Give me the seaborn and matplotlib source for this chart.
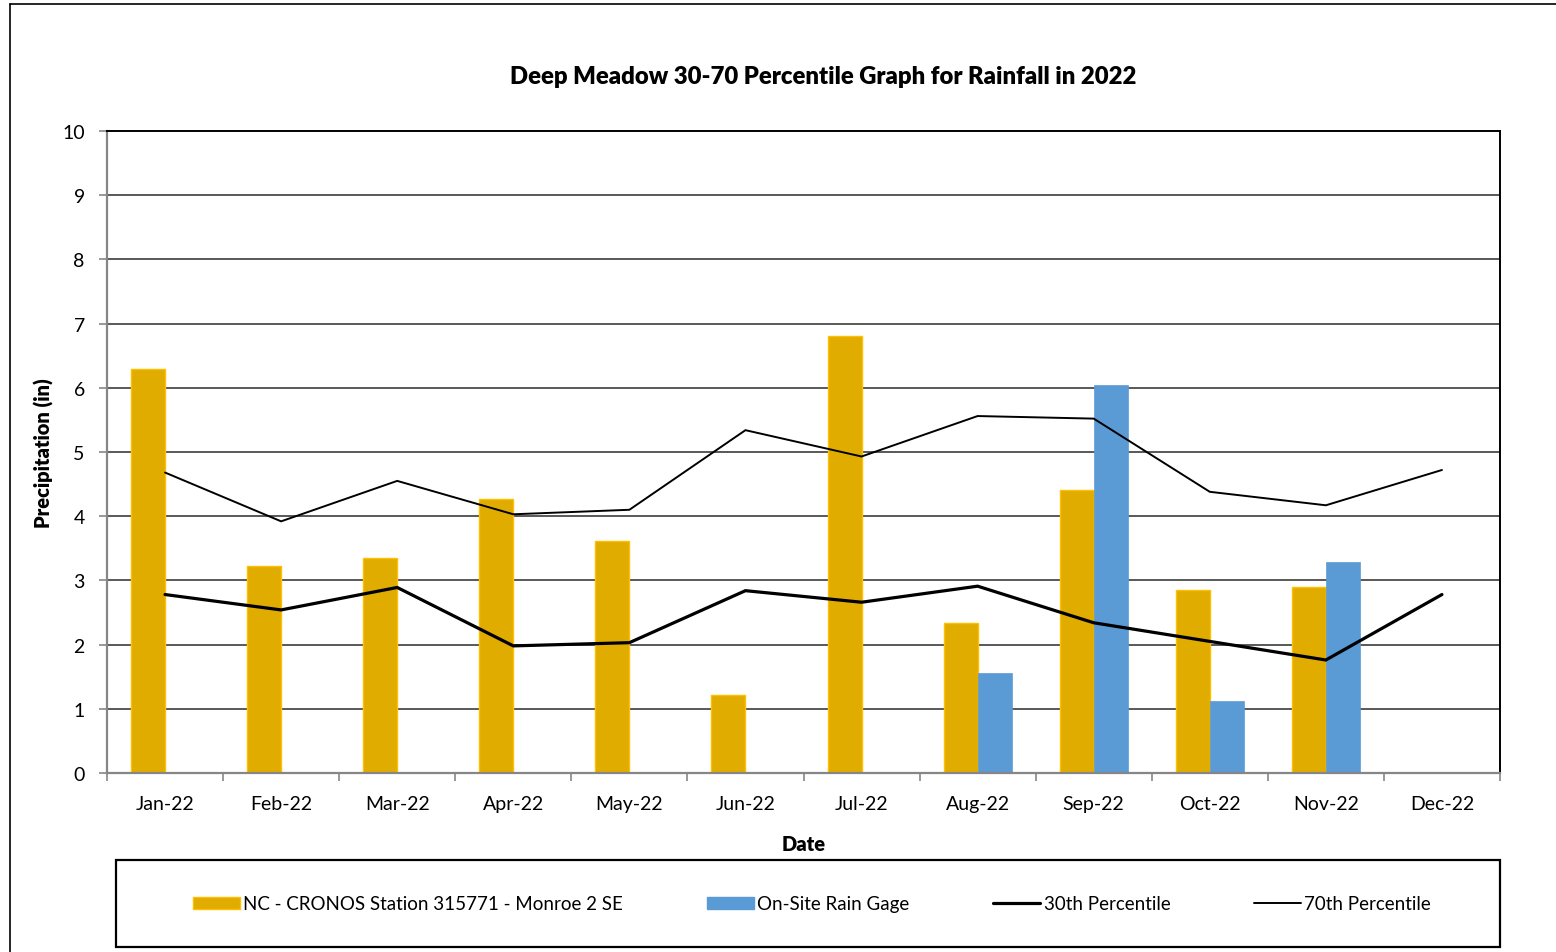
import numpy as np
import pandas as pd
import matplotlib
matplotlib.use("Agg")
import matplotlib.pyplot as plt
from matplotlib.patches import Patch, Rectangle
from matplotlib.lines import Line2D
import seaborn as sns

months = ["Jan-22", "Feb-22", "Mar-22", "Apr-22", "May-22", "Jun-22",
          "Jul-22", "Aug-22", "Sep-22", "Oct-22", "Nov-22", "Dec-22"]
cronos = [6.30, 3.23, 3.35, 4.27, 3.62, 1.22, 6.81, 2.33, 4.41, 2.85, 2.89, np.nan]
onsite = [np.nan, np.nan, np.nan, np.nan, np.nan, np.nan, np.nan, 1.55, 6.05, 1.12, 3.29, np.nan]
p30 = [2.78, 2.54, 2.89, 1.98, 2.03, 2.84, 2.66, 2.91, 2.34, 2.05, 1.76, 2.78]
p70 = [4.68, 3.92, 4.55, 4.03, 4.10, 5.34, 4.93, 5.56, 5.52, 4.38, 4.17, 4.72]

s_cronos = "NC - CRONOS Station 315771 - Monroe 2 SE"
s_onsite = "On-Site Rain Gage"

sns.set_theme(style="white")
plt.rcParams['font.family'] = ['Lato', 'DejaVu Sans']
plt.rcParams['text.color'] = 'black'
plt.rcParams['axes.labelcolor'] = 'black'

df = pd.DataFrame({
    "Date": months * 2,
    "Precip": cronos + onsite,
    "Series": [s_cronos] * 12 + [s_onsite] * 12,
})

gold = "#E0AC00"
gold_edge = "#FFC000"
blue = "#5B9BD5"

fig = plt.figure(figsize=(15.56, 9.53), dpi=100)
ax = fig.add_axes([107/1556, 1-774/953, (1500-107)/1556, (774-132)/953])

sns.barplot(data=df, x="Date", y="Precip", hue="Series", order=months,
            hue_order=[s_cronos, s_onsite], palette=[gold, blue],
            width=0.586, gap=0, ax=ax, legend=False, zorder=2, saturation=1)
gold_rgba = matplotlib.colors.to_rgba(gold)
for bar in ax.patches:
    fc = bar.get_facecolor()
    if abs(fc[0] - gold_rgba[0]) < 0.01:
        bar.set_edgecolor(gold_edge)
        bar.set_linewidth(1.0)
    else:
        bar.set_edgecolor(blue)
        bar.set_linewidth(0.5)

xs = np.arange(len(months))
ax.plot(xs, p30, color="black", lw=2.3, zorder=3, solid_joinstyle="miter")
ax.plot(xs, p70, color="black", lw=1.4, zorder=3, solid_joinstyle="miter")

ax.set_xlim(-0.5, 11.5)
ax.set_ylim(0, 10)
ax.set_yticks(range(0, 11))
ax.set_yticklabels([str(v) for v in range(0, 11)], fontsize=14, color="black")
ax.set_xticks(xs)
ax.set_xticklabels(months, fontsize=14, color="black")
ax.set_xticks(np.arange(-0.5, 12, 1), minor=True)
ax.tick_params(axis="x", which="major", length=0, pad=16)
ax.tick_params(axis="x", which="minor", length=6, color="#868686", width=1.2, direction="out")
ax.tick_params(axis="y", which="major", length=6, color="#868686", width=1.2, direction="out", pad=10)
ax.tick_params(bottom=True, left=True, which="both")

for v in range(1, 10):
    ax.axhline(v, color="#2b2b2b", lw=1.1, zorder=1)

for sp in ["left", "bottom"]:
    ax.spines[sp].set_color("#868686")
    ax.spines[sp].set_linewidth(1.6)
for sp in ["top", "right"]:
    ax.spines[sp].set_color("black")
    ax.spines[sp].set_linewidth(1.4)
ax.spines["bottom"].set_zorder(4)

ax.set_xlabel("Date", fontsize=14.5, fontweight="heavy", labelpad=16)
ax.set_ylabel("Precipitation (in)", fontsize=14.5, fontweight="heavy", labelpad=6)

fig.text(823/1556, 1-77/953, "Deep Meadow 30-70 Percentile Graph for Rainfall in 2022",
         ha="center", va="center", fontsize=17.2, fontweight="heavy", color="black")

# outer chart frame
fig.add_artist(Line2D([10/1556, 10/1556], [0, 1-5/953], color="black", lw=1.2, transform=fig.transFigure))
fig.add_artist(Line2D([10/1556, 1], [1-5/953, 1-5/953], color="black", lw=1.2, transform=fig.transFigure))

# legend box
fig.add_artist(Rectangle((116/1556, 1-948/953), (1500-116)/1556, (948-861)/953,
                         fill=False, edgecolor="black", lw=1.6, transform=fig.transFigure))
handles = [Patch(facecolor=gold, edgecolor=gold_edge, lw=1),
           Patch(facecolor=blue, edgecolor=blue),
           Line2D([0], [0], color="black", lw=2.3),
           Line2D([0], [0], color="black", lw=1.4)]
labels = [s_cronos, s_onsite, "30th Percentile", "70th Percentile"]
leg = fig.legend(handles, labels, loc="center", bbox_to_anchor=(812/1556, 1-905/953),
                 ncol=4, frameon=False, fontsize=13.5, handlelength=2.5, handleheight=0.65,
                 handletextpad=0.2, columnspacing=4.45)
for t in leg.get_texts():
    t.set_color("black")

fig.savefig("out.png", dpi=100)
